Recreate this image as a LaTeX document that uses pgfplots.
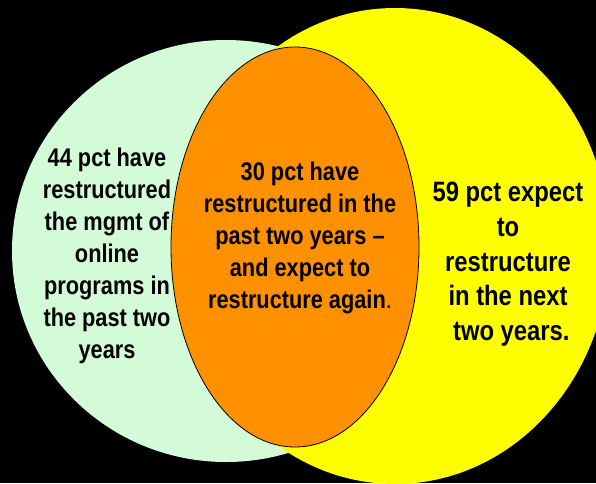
\documentclass[border=0pt]{standalone}
\usepackage{fontspec}
\setmainfont{Liberation Sans}[FakeStretch=0.85]
\usepackage{pgfplots}
\pgfplotsset{compat=1.18}
\definecolor{mint}{RGB}{212,251,216}
\definecolor{vyellow}{RGB}{255,255,0}
\definecolor{vorange}{RGB}{255,145,0}

\begin{document}
\begin{tikzpicture}
\useasboundingbox (0,0) rectangle (596pt,483pt);
\begin{axis}[
    at={(0,0)}, anchor=south west,
    width=596pt, height=483pt, scale only axis,
    xmin=0, xmax=596, ymin=0, ymax=483,
    y dir=reverse,
    hide axis, clip=true,
]
% background
\fill[black] (axis cs:0,0) rectangle (axis cs:596,483);

% the three regions (pixel units of the original)
\fill[mint] (axis cs:226,251) ellipse [x radius=214, y radius=211];
\fill[vyellow] (axis cs:395,246) ellipse [x radius=215, y radius=238];
\filldraw[fill=vorange, draw=black, line width=0.8pt] (axis cs:295,247) ellipse [x radius=124, y radius=200];

% labels
\tikzset{lbl/.style={anchor=north, align=center, inner sep=0pt, text=black,
    font=\fontsize{25.6}{32}\selectfont\bfseries}}
\node[lbl] at (axis cs:107,147.5) {44 pct have\\restructured\\the mgmt of\\online\\programs in\\the past two\\years};
\node[lbl] at (axis cs:300,161.5) {30 pct have\\restructured in the\\past two years --\\and expect to\\restructure again\textmd{.}};
\node[lbl, font=\fontsize{28}{34.7}\selectfont\bfseries] at (axis cs:508,182) {59 pct expect\\to\\restructure\\in the next\\\ two years.};
\end{axis}
\end{tikzpicture}
\end{document}
